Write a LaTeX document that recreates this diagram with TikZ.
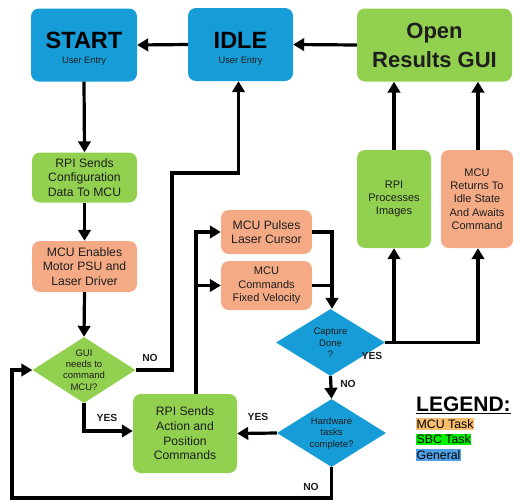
\documentclass[tikz,border=0pt]{standalone}
\usepackage{fontspec}
\setmainfont{Liberation Sans}
\usetikzlibrary{shapes.geometric,arrows.meta}
\definecolor{cblue}{RGB}{22,156,214}
\definecolor{cgreen}{RGB}{146,208,80}
\definecolor{corange}{RGB}{244,170,132}
\definecolor{ctxt}{RGB}{30,30,30}
\definecolor{lorange}{RGB}{248,190,110}
\definecolor{lgreen}{RGB}{0,240,0}
\definecolor{lblue}{RGB}{80,160,230}
\tikzset{
  box/.style={rounded corners=8pt, inner sep=0pt, align=center, text=ctxt},
  bluebox/.style={box, fill=cblue},
  greenbox/.style={box, fill=cgreen},
  orangebox/.style={box, fill=corange},
  dia/.style={diamond, inner sep=0pt},
  dtext/.style={align=center, text=ctxt, font=\fontsize{9.5}{11.4}\selectfont},
  arr/.style={line width=3.2pt, -{Triangle[length=11pt,width=12.5pt]}},
  ln/.style={line width=3.2pt},
  lab/.style={font=\bfseries\fontsize{10.3}{12}\selectfont, text=ctxt},
  leg/.style={font=\fontsize{12.3}{14}\selectfont, inner xsep=0.5pt, inner ysep=1pt, anchor=west}
}
\begin{document}
\begin{tikzpicture}[x=1pt,y=-1pt]
\useasboundingbox (0,0) rectangle (513,501);
% top row
\node[bluebox, minimum width=106pt, minimum height=73pt] (start) at (84,45) {};
\node[font=\bfseries\fontsize{23.5}{26}\selectfont] (startt) at (84,40) {START};
\node[font=\fontsize{9.3}{11}\selectfont, text=ctxt] (starts) at (84,61) {User Entry};
\node[bluebox, minimum width=105pt, minimum height=73pt] (idle) at (240.5,44.5) {};
\node[font=\bfseries\fontsize{23.5}{26}\selectfont] (idlet) at (240.5,40) {IDLE};
\node[font=\fontsize{9.3}{11}\selectfont, text=ctxt] (idles) at (240.5,61) {User Entry};
\node[greenbox, minimum width=155pt, minimum height=73pt, font=\bfseries\fontsize{22}{29}\selectfont] (open) at (434.5,45) {Open\\Results GUI};
% left column
\node[greenbox, minimum width=105pt, minimum height=50pt, font=\fontsize{12.2}{14.4}\selectfont] (cfg) at (84.5,177.5) {RPI Sends\\Configuration\\Data To MCU};
\node[orangebox, minimum width=105pt, minimum height=51pt, font=\fontsize{12.2}{14.4}\selectfont] (enab) at (84.5,266.5) {MCU Enables\\Motor PSU and\\Laser Driver};
\node[dia, fill=cgreen, minimum width=103pt, minimum height=66pt] (gui) at (84,370) {};
\node[dtext] (guit) at (84,370) {GUI\\needs to\\command\\MCU?};
\node[greenbox, minimum width=104pt, minimum height=79pt, font=\fontsize{12.2}{14.6}\selectfont] (act) at (185,433.5) {RPI Sends\\Action and\\Position\\Commands};
% middle
\node[orangebox, minimum width=91pt, minimum height=44pt, font=\fontsize{12.2}{14}\selectfont] (pulse) at (266.5,232) {MCU Pulses\\Laser Cursor};
\node[orangebox, minimum width=91pt, minimum height=49pt, font=\fontsize{11}{13.7}\selectfont] (vel) at (266.5,285.5) {MCU\\Commands\\Fixed Velocity};
\node[dia, fill=cblue, minimum width=109pt, minimum height=67pt] (cap) at (330.5,342.5) {};
\node[dtext] (capt) at (330.5,343) {Capture\\Done\\?};
\node[dia, fill=cblue, minimum width=109pt, minimum height=68pt] (hw) at (331.5,433) {};
\node[dtext] (hwt) at (331.5,433.5) {Hardware\\tasks\\complete?};
% right
\node[greenbox, minimum width=74pt, minimum height=98pt, font=\fontsize{11}{13.3}\selectfont] (proc) at (394,199) {RPI\\Processes\\Images};
\node[orangebox, minimum width=72pt, minimum height=98pt, font=\fontsize{11}{13.3}\selectfont] (ret) at (477,199) {MCU\\Returns To\\Idle State\\And Awaits\\Command};
% connectors
\draw[arr] (open.west) -- (idle.east);
\draw[arr] (idle.west) -- (start.east);
\draw[arr] (start.south) -- (cfg.north);
\draw[arr] (cfg.south) -- (enab.north);
\draw[arr] (enab.south) -- (gui.north);
\coordinate (nobend) at (172,173);
\draw[arr] (gui.east) -| (nobend) -| ([xshift=-2pt]idle.south);
\draw[arr] (gui.south) |- ([yshift=2.5pt]act.west);
\draw[arr] ([xshift=11pt]act.north) |- (pulse.west);
\draw[arr] ([xshift=11pt]act.north |- vel.west) -- (vel.west);
\draw[arr] (pulse.east) -| ([xshift=1.5pt]cap.north);
\draw[ln] (vel.east) -- ([xshift=1.5pt]vel.east -| cap.north);
\draw[arr] (cap.south) -- (hw.north);
\draw[arr] (cap.east) -| (proc.south);
\draw[arr] (cap.east) -| ([xshift=1pt]ret.south);
\draw[arr] (proc.north) -- (proc.north |- open.south);
\draw[arr] ([xshift=1pt]ret.north) -- ([xshift=1pt]ret.north |- open.south);
\draw[arr] (hw.west) -- (act.east);
\coordinate (lowbend) at (12,498);
\draw[arr] (hw.south) |- (lowbend) |- (gui.west);
% labels
\node[lab] (l1) at (150,358) {NO};
\node[lab] (l2) at (107,418) {YES};
\node[lab] (l3) at (258,417) {YES};
\node[lab] (l4) at (372,356) {YES};
\node[lab] (l5) at (348,384) {NO};
\node[lab] (l6) at (311,487) {NO};
% legend
\node[font=\bfseries\fontsize{21}{24}\selectfont, anchor=west, inner sep=0pt] (legt) at (416,405) {\underline{LEGEND:}};
\node[leg, fill=lorange] (lm) at (416,424) {MCU Task};
\node[leg, fill=lgreen] (ls) at (416,439.5) {SBC Task};
\node[leg, fill=lblue] (lg) at (416,455) {General};
\end{tikzpicture}
\end{document}
